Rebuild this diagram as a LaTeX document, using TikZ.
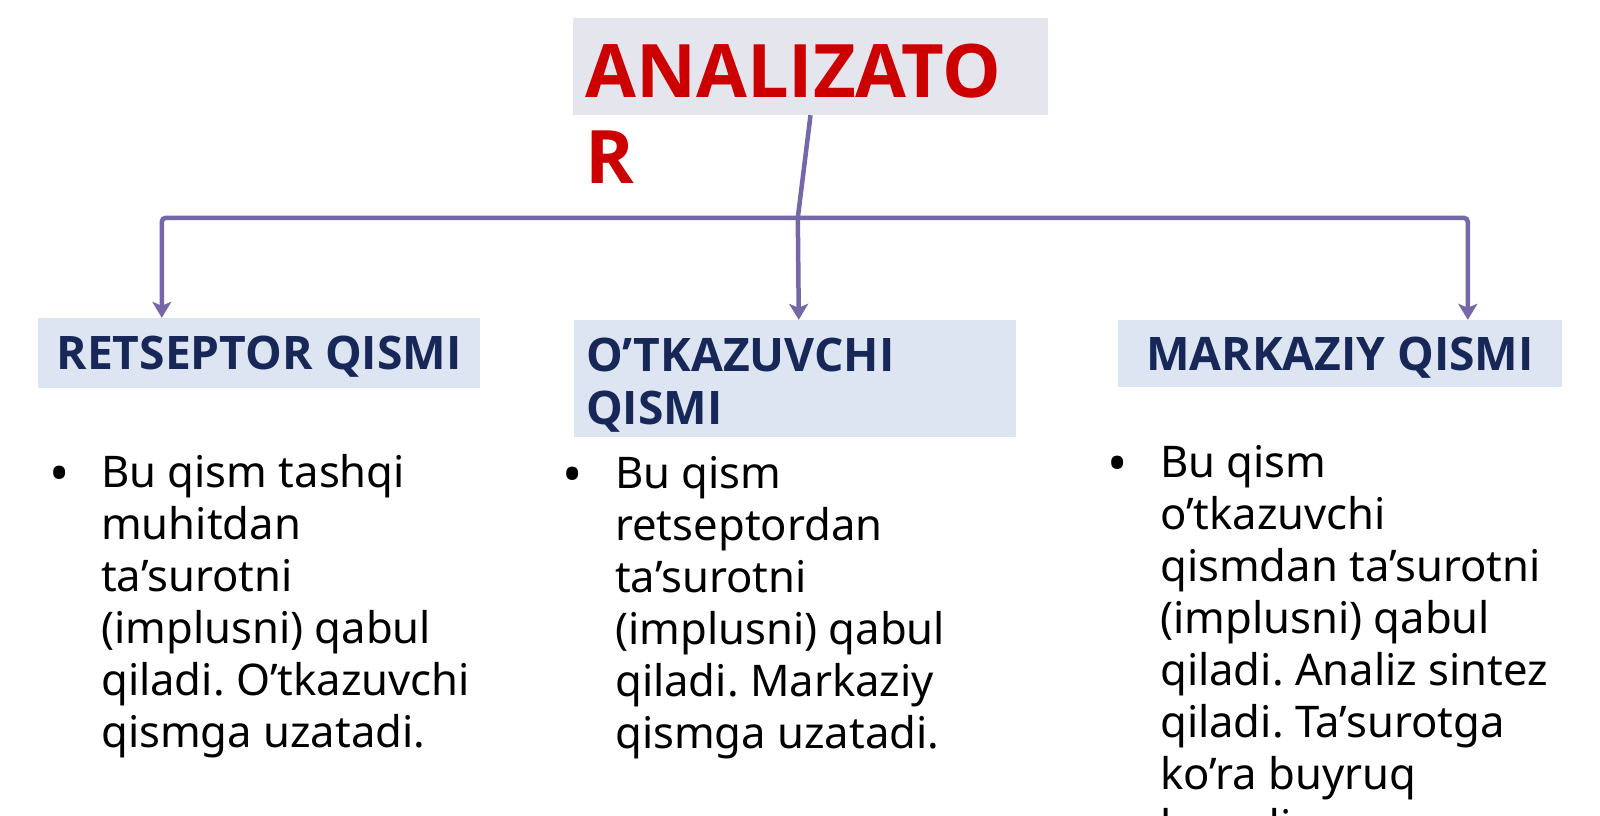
\documentclass[tikz,border=0pt]{standalone}
\usepackage{fontspec}
\setmainfont{Noto Sans}
\newfontfamily\headfont{Open Sans}
\usetikzlibrary{arrows.meta,calc}
\definecolor{titlered}{HTML}{CC0000}
\definecolor{titlefill}{HTML}{E5E5EE}
\definecolor{headfill}{HTML}{DCE5F1}
\definecolor{headtext}{HTML}{172758}
\definecolor{conncol}{HTML}{7567A8}
\tikzset{
  titlebox/.style={fill=titlefill, draw=none, inner sep=0pt, minimum width=475pt, minimum height=97pt},
  titletext/.style={text=titlered, inner sep=0pt, align=left, font=\headfont\bfseries\fontsize{73.8}{86}\selectfont},
  headbox/.style={fill=headfill, draw=none, inner sep=0pt},
  headtext/.style={text=headtext, inner sep=0pt, font=\headfont\bfseries\fontsize{46.2}{53}\selectfont},
  bodytext/.style={text=black, inner sep=0pt, align=left, font=\fontsize{43.6}{52}\selectfont\frenchspacing},
  bulletmark/.style={text=black, inner sep=0pt, anchor=base, font=\fontsize{54}{54}\selectfont},
  conn/.style={draw=conncol, line width=4.5pt, rounded corners=4pt},
  arrowconn/.style={conn, -{Stealth[length=16pt,width=19pt,inset=4pt]}}
}
\begin{document}
\begin{tikzpicture}[x=1pt,y=-1pt]
\useasboundingbox[fill=white] (0,0) rectangle (1600,816);
% title
\node[titlebox] (title) at (810.5,66.5) {};
\node[titletext, anchor=north west] (tt) at (585,37) {\rule{0pt}{60pt}ANALIZATO\\R};
% header boxes
\node[headbox, minimum width=442pt, minimum height=70pt, headtext, text height=33pt, text depth=0pt] (b1) at (259,353) {RETSEPTOR QISMI};
\node[headbox, minimum width=442pt, minimum height=117pt] (b2) at (795,378.5) {};
\node[headtext, align=left, anchor=north west] (b2t) at (586,331) {\rule{0pt}{40pt}O’TKAZUVCHI\\QISMI};
\node[headbox, minimum width=444pt, minimum height=67pt, headtext, text height=33pt, text depth=0pt] (b3) at (1340,353.5) {MARKAZIY QISMI};
% connectors
\coordinate (j) at ($(b2.north west)+(224,-102)$);
\coordinate (a1) at ($(b1.north west)+(124,0)$);
\coordinate (a2) at ($(b2.north west)+(225,0)$);
\coordinate (a3) at ($(b3.north west)+(350,0)$);
\draw[conn] (title.south) -- (j);
\draw[arrowconn] (j) -| (a1);
\draw[arrowconn] (j) -| (a3);
\draw[arrowconn] (j) -- (a2);
% bullets and texts
\node[bulletmark] (u1) at (60,492) {•};
\node[bodytext, anchor=north west] (t1) at (101,451) {\rule{0pt}{36pt}Bu qism tashqi\\muhitdan\\ta’surotni\\(implusni) qabul\\qiladi. O’tkazuvchi\\qismga uzatadi.};
\node[bulletmark] (u2) at (573,493) {•};
\node[bodytext, anchor=north west] (t2) at (615,452) {\rule{0pt}{36pt}Bu qism\\retseptordan\\ta’surotni\\(implusni) qabul\\qiladi. Markaziy\\qismga uzatadi.};
\node[bulletmark] (u3) at (1118,482) {•};
\node[bodytext, anchor=north west] (t3) at (1160,441) {\rule{0pt}{36pt}Bu qism\\o’tkazuvchi\\qismdan ta’surotni\\(implusni) qabul\\qiladi. Analiz sintez\\qiladi. Ta’surotga\\ko’ra buyruq\\beradi.};
\end{tikzpicture}
\end{document}
